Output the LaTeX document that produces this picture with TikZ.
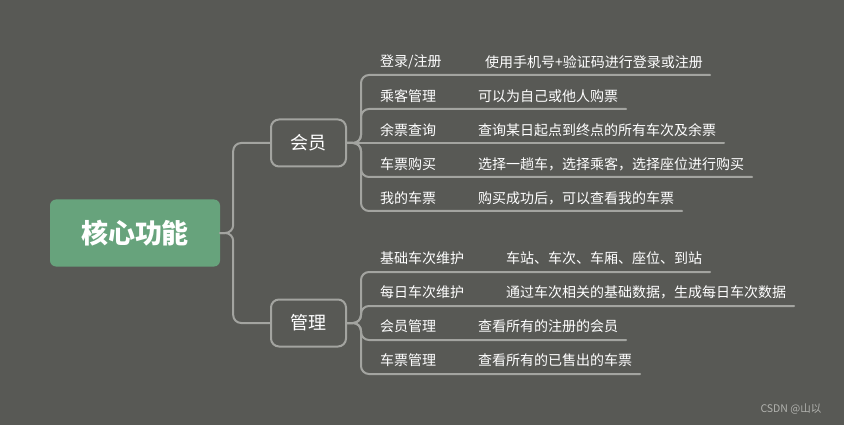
\documentclass[tikz,border=0pt]{standalone}
\usepackage{fontspec}
\newfontfamily\cjk{Noto Sans CJK SC}
\definecolor{bgcol}{RGB}{88,89,85}
\definecolor{rootcol}{RGB}{103,163,124}
\definecolor{linecol}{RGB}{163,164,160}
\definecolor{markcol}{RGB}{178,179,175}

\begin{document}
\begin{tikzpicture}[x=1pt, y=-1pt, font=\cjk, line join=round, line cap=round,
	branch/.style={draw=linecol, line width=2pt, rounded corners=8pt},
	topic/.style={draw=linecol, line width=2pt, rounded corners=8pt, minimum width=75pt, minimum height=47pt, text=white, font=\cjk\fontsize{18}{20}\selectfont},
	leaf/.style={anchor=west, inner sep=0pt, text=white, font=\cjk\fontsize{14}{16}\selectfont}]
			\fill[bgcol] (0,0) rectangle (844,425);
			\useasboundingbox (0,0) rectangle (844,425);
			% centre and the two main topics
			\node[fill=rootcol, rounded corners=6pt, minimum width=170pt, minimum height=67pt, text=white, font=\cjk\bfseries\fontsize{27}{30}\selectfont] (root) at (135,233) {核心功能};
			\node[topic] (member) at (308.5,143) {会员};
			\node[topic] (manage) at (308.5,323) {管理};
			\draw[branch] (root.east) -- ++(13,0) |- (member.west);
			\draw[branch] (root.east) -- ++(13,0) |- (manage.west);
			% member
			\node[leaf] (m1) at (380,62) {登录/注册};
			\node[leaf] (m1d) at (485,62) {使用手机号+验证码进行登录或注册};
			\node[leaf] (m2) at (380,96) {乘客管理};
			\node[leaf] (m2d) at (478,96) {可以为自己或他人购票};
			\node[leaf] (m3) at (380,130) {余票查询};
			\node[leaf] (m3d) at (478,130) {查询某日起点到终点的所有车次及余票};
			\node[leaf] (m4) at (380,164) {车票购买};
			\node[leaf] (m4d) at (478,164) {选择一趟车，选择乘客，选择座位进行购买};
			\node[leaf] (m5) at (380,198) {我的车票};
			\node[leaf] (m5d) at (478,198) {购买成功后，可以查看我的车票};
			\coordinate (m1u) at (710,75);
			\coordinate (m2u) at (626,109);
			\coordinate (m3u) at (724,143);
			\coordinate (m4u) at (752,177);
			\coordinate (m5u) at (682,211);
			\draw[branch] (member.east) -- ++(14,0) |- (m1u);
			\draw[branch] (member.east) -- ++(14,0) |- (m2u);
			\draw[branch] (member.east) -- (m3u);
			\draw[branch] (member.east) -- ++(14,0) |- (m4u);
			\draw[branch] (member.east) -- ++(14,0) |- (m5u);
			% manage
			\node[leaf] (g1) at (380,258) {基础车次维护};
			\node[leaf] (g1d) at (506,258) {车站、车次、车厢、座位、到站};
			\node[leaf] (g2) at (380,292) {每日车次维护};
			\node[leaf] (g2d) at (506,292) {通过车次相关的基础数据，生成每日车次数据};
			\node[leaf] (g3) at (380,326) {会员管理};
			\node[leaf] (g3d) at (478,326) {查看所有的注册的会员};
			\node[leaf] (g4) at (380,360) {车票管理};
			\node[leaf] (g4d) at (478,360) {查看所有的已售出的车票};
			\coordinate (g1u) at (710,272);
			\coordinate (g2u) at (794,306);
			\coordinate (g3u) at (626,340);
			\coordinate (g4u) at (640,374);
			\draw[branch] (manage.east) -- ++(14,0) |- (g1u);
			\draw[branch] (manage.east) -- ++(14,0) |- (g2u);
			\draw[branch] (manage.east) -- ++(14,0) |- (g3u);
			\draw[branch] (manage.east) -- ++(14,0) |- (g4u);
			\node[anchor=west, text=markcol, font=\cjk\fontsize{10.5}{12}\selectfont] (mark) at (757,409) {CSDN @山以};
\end{tikzpicture}
\end{document}
